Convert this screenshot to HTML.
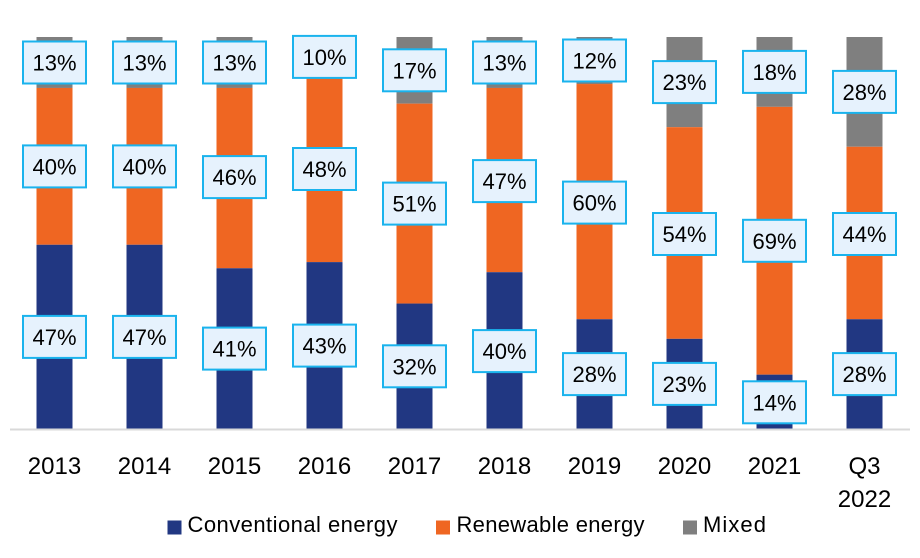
<!DOCTYPE html>
<html>
<head>
<meta charset="utf-8">
<style>
html,body{margin:0;padding:0;background:#fff;}
svg{display:block;}
text{font-family:"Liberation Sans",Arial,sans-serif;fill:#000;}
</style>
</head>
<body>
<svg width="920" height="558" viewBox="0 0 920 558" xmlns="http://www.w3.org/2000/svg">
  <rect x="0" y="0" width="920" height="558" fill="#fff"/>

  <!-- Bars -->
  <g>
    <!-- 2013 -->
    <rect x="36.5" y="37" width="36" height="50.96" fill="#7F7F7F"/>
    <rect x="36.5" y="87.96" width="36" height="156.8" fill="#EF6622"/>
    <rect x="36.5" y="244.76" width="36" height="184.24" fill="#213782"/>
    <!-- 2014 -->
    <rect x="126.5" y="37" width="36" height="50.96" fill="#7F7F7F"/>
    <rect x="126.5" y="87.96" width="36" height="156.8" fill="#EF6622"/>
    <rect x="126.5" y="244.76" width="36" height="184.24" fill="#213782"/>
    <!-- 2015 -->
    <rect x="216.5" y="37" width="36" height="50.96" fill="#7F7F7F"/>
    <rect x="216.5" y="87.96" width="36" height="180.32" fill="#EF6622"/>
    <rect x="216.5" y="268.28" width="36" height="160.72" fill="#213782"/>
    <!-- 2016 -->
    <rect x="306.5" y="37" width="36" height="38.81" fill="#7F7F7F"/>
    <rect x="306.5" y="75.81" width="36" height="186.3" fill="#EF6622"/>
    <rect x="306.5" y="262.11" width="36" height="166.89" fill="#213782"/>
    <!-- 2017 -->
    <rect x="396.5" y="37" width="36" height="66.64" fill="#7F7F7F"/>
    <rect x="396.5" y="103.64" width="36" height="199.92" fill="#EF6622"/>
    <rect x="396.5" y="303.56" width="36" height="125.44" fill="#213782"/>
    <!-- 2018 -->
    <rect x="486.5" y="37" width="36" height="50.96" fill="#7F7F7F"/>
    <rect x="486.5" y="87.96" width="36" height="184.24" fill="#EF6622"/>
    <rect x="486.5" y="272.2" width="36" height="156.8" fill="#213782"/>
    <!-- 2019 -->
    <rect x="576.5" y="37" width="36" height="47.04" fill="#7F7F7F"/>
    <rect x="576.5" y="84.04" width="36" height="235.2" fill="#EF6622"/>
    <rect x="576.5" y="319.24" width="36" height="109.76" fill="#213782"/>
    <!-- 2020 -->
    <rect x="666.5" y="37" width="36" height="90.16" fill="#7F7F7F"/>
    <rect x="666.5" y="127.16" width="36" height="211.68" fill="#EF6622"/>
    <rect x="666.5" y="338.84" width="36" height="90.16" fill="#213782"/>
    <!-- 2021 -->
    <rect x="756.5" y="37" width="36" height="69.86" fill="#7F7F7F"/>
    <rect x="756.5" y="106.86" width="36" height="267.8" fill="#EF6622"/>
    <rect x="756.5" y="374.66" width="36" height="54.34" fill="#213782"/>
    <!-- Q3 2022 -->
    <rect x="846.5" y="37" width="36" height="109.76" fill="#7F7F7F"/>
    <rect x="846.5" y="146.76" width="36" height="172.48" fill="#EF6622"/>
    <rect x="846.5" y="319.24" width="36" height="109.76" fill="#213782"/>
  </g>

  <!-- Axis line -->
  <line x1="10" y1="429.5" x2="910" y2="429.5" stroke="#D9D9D9" stroke-width="2"/>

  <!-- Data labels -->
  <g font-size="22" text-anchor="middle">
    <!-- 2013 -->
    <rect x="23" y="41.5" width="63" height="42" fill="#E6F2FD" stroke="#1AB3ED" stroke-width="2"/>
    <text x="54.5" y="70.5">13%</text>
    <rect x="23" y="145.4" width="63" height="42" fill="#E6F2FD" stroke="#1AB3ED" stroke-width="2"/>
    <text x="54.5" y="174.4">40%</text>
    <rect x="23" y="315.9" width="63" height="42" fill="#E6F2FD" stroke="#1AB3ED" stroke-width="2"/>
    <text x="54.5" y="344.9">47%</text>
    <!-- 2014 -->
    <rect x="113" y="41.5" width="63" height="42" fill="#E6F2FD" stroke="#1AB3ED" stroke-width="2"/>
    <text x="144.5" y="70.5">13%</text>
    <rect x="113" y="145.4" width="63" height="42" fill="#E6F2FD" stroke="#1AB3ED" stroke-width="2"/>
    <text x="144.5" y="174.4">40%</text>
    <rect x="113" y="315.9" width="63" height="42" fill="#E6F2FD" stroke="#1AB3ED" stroke-width="2"/>
    <text x="144.5" y="344.9">47%</text>
    <!-- 2015 -->
    <rect x="203" y="41.5" width="63" height="42" fill="#E6F2FD" stroke="#1AB3ED" stroke-width="2"/>
    <text x="234.5" y="70.5">13%</text>
    <rect x="203" y="156.1" width="63" height="42" fill="#E6F2FD" stroke="#1AB3ED" stroke-width="2"/>
    <text x="234.5" y="185.1">46%</text>
    <rect x="203" y="327.6" width="63" height="42" fill="#E6F2FD" stroke="#1AB3ED" stroke-width="2"/>
    <text x="234.5" y="356.6">41%</text>
    <!-- 2016 -->
    <rect x="293" y="35.9" width="63" height="42" fill="#E6F2FD" stroke="#1AB3ED" stroke-width="2"/>
    <text x="324.5" y="64.9">10%</text>
    <rect x="293" y="148" width="63" height="42" fill="#E6F2FD" stroke="#1AB3ED" stroke-width="2"/>
    <text x="324.5" y="177">48%</text>
    <rect x="293" y="324.6" width="63" height="42" fill="#E6F2FD" stroke="#1AB3ED" stroke-width="2"/>
    <text x="324.5" y="353.6">43%</text>
    <!-- 2017 -->
    <rect x="383" y="49.3" width="63" height="42" fill="#E6F2FD" stroke="#1AB3ED" stroke-width="2"/>
    <text x="414.5" y="78.3">17%</text>
    <rect x="383" y="182.6" width="63" height="42" fill="#E6F2FD" stroke="#1AB3ED" stroke-width="2"/>
    <text x="414.5" y="211.6">51%</text>
    <rect x="383" y="345.3" width="63" height="42" fill="#E6F2FD" stroke="#1AB3ED" stroke-width="2"/>
    <text x="414.5" y="374.3">32%</text>
    <!-- 2018 -->
    <rect x="473" y="41.5" width="63" height="42" fill="#E6F2FD" stroke="#1AB3ED" stroke-width="2"/>
    <text x="504.5" y="70.5">13%</text>
    <rect x="473" y="160.1" width="63" height="42" fill="#E6F2FD" stroke="#1AB3ED" stroke-width="2"/>
    <text x="504.5" y="189.1">47%</text>
    <rect x="473" y="330.1" width="63" height="42" fill="#E6F2FD" stroke="#1AB3ED" stroke-width="2"/>
    <text x="504.5" y="359.1">40%</text>
    <!-- 2019 -->
    <rect x="563" y="39.5" width="63" height="42" fill="#E6F2FD" stroke="#1AB3ED" stroke-width="2"/>
    <text x="594.5" y="68.5">12%</text>
    <rect x="563" y="181.6" width="63" height="42" fill="#E6F2FD" stroke="#1AB3ED" stroke-width="2"/>
    <text x="594.5" y="210.6">60%</text>
    <rect x="563" y="353.1" width="63" height="42" fill="#E6F2FD" stroke="#1AB3ED" stroke-width="2"/>
    <text x="594.5" y="382.1">28%</text>
    <!-- 2020 -->
    <rect x="653" y="61.1" width="63" height="42" fill="#E6F2FD" stroke="#1AB3ED" stroke-width="2"/>
    <text x="684.5" y="90.1">23%</text>
    <rect x="653" y="213" width="63" height="42" fill="#E6F2FD" stroke="#1AB3ED" stroke-width="2"/>
    <text x="684.5" y="242">54%</text>
    <rect x="653" y="362.9" width="63" height="42" fill="#E6F2FD" stroke="#1AB3ED" stroke-width="2"/>
    <text x="684.5" y="391.9">23%</text>
    <!-- 2021 -->
    <rect x="743" y="50.9" width="63" height="42" fill="#E6F2FD" stroke="#1AB3ED" stroke-width="2"/>
    <text x="774.5" y="79.9">18%</text>
    <rect x="743" y="219.8" width="63" height="42" fill="#E6F2FD" stroke="#1AB3ED" stroke-width="2"/>
    <text x="774.5" y="248.8">69%</text>
    <rect x="743" y="381.3" width="63" height="42" fill="#E6F2FD" stroke="#1AB3ED" stroke-width="2"/>
    <text x="774.5" y="410.3">14%</text>
    <!-- Q3 2022 -->
    <rect x="833" y="70.9" width="63" height="42" fill="#E6F2FD" stroke="#1AB3ED" stroke-width="2"/>
    <text x="864.5" y="99.9">28%</text>
    <rect x="833" y="213" width="63" height="42" fill="#E6F2FD" stroke="#1AB3ED" stroke-width="2"/>
    <text x="864.5" y="242">44%</text>
    <rect x="833" y="353.1" width="63" height="42" fill="#E6F2FD" stroke="#1AB3ED" stroke-width="2"/>
    <text x="864.5" y="382.1">28%</text>
  </g>

  <!-- X axis labels -->
  <g font-size="24" text-anchor="middle">
    <text x="54.5" y="474">2013</text>
    <text x="144.5" y="474">2014</text>
    <text x="234.5" y="474">2015</text>
    <text x="324.5" y="474">2016</text>
    <text x="414.5" y="474">2017</text>
    <text x="504.5" y="474">2018</text>
    <text x="594.5" y="474">2019</text>
    <text x="684.5" y="474">2020</text>
    <text x="774.5" y="474">2021</text>
    <text x="864.5" y="474">Q3</text>
    <text x="864.5" y="507">2022</text>
  </g>

  <!-- Legend -->
  <g font-size="22">
    <rect x="167.5" y="520.5" width="14" height="14" fill="#213782"/>
    <text x="187.5" y="532" textLength="210" lengthAdjust="spacing">Conventional energy</text>
    <rect x="436" y="520.5" width="14" height="14" fill="#EF6622"/>
    <text x="456.5" y="532" textLength="188" lengthAdjust="spacing">Renewable energy</text>
    <rect x="683" y="520.5" width="14" height="14" fill="#7F7F7F"/>
    <text x="703" y="532" textLength="63" lengthAdjust="spacing">Mixed</text>
  </g>
</svg>
</body>
</html>
